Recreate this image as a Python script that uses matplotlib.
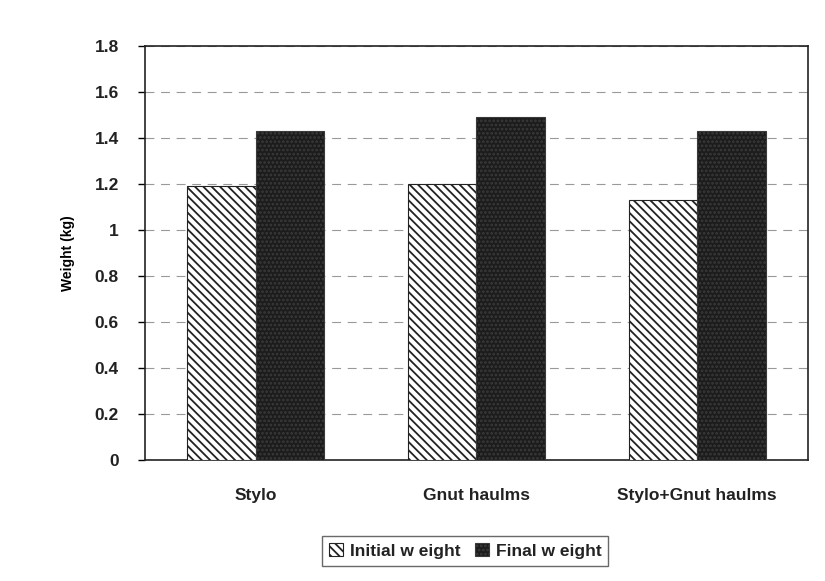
import matplotlib
matplotlib.use("Agg")
import matplotlib.pyplot as plt
import numpy as np

categories = ["Stylo", "Gnut haulms", "Stylo+Gnut haulms"]
initial_weight = [1.19, 1.20, 1.13]
final_weight = [1.43, 1.49, 1.43]
series_labels = ["Initial w eight", "Final w eight"]
y_ticks = [0, 0.2, 0.4, 0.6, 0.8, 1, 1.2, 1.4, 1.6, 1.8]
y_tick_labels = ["0", "0.2", "0.4", "0.6", "0.8", "1", "1.2", "1.4", "1.6", "1.8"]

plt.rcParams['font.family'] = ['Liberation Sans', 'DejaVu Sans']
plt.rcParams['hatch.linewidth'] = 1.3

fig = plt.figure(figsize=(8.25, 5.81), dpi=100)
ax = fig.add_axes([0.176, 0.208, 0.803, 0.713])

x = np.arange(len(categories))
w = 0.31
b1 = ax.bar(x - w/2, initial_weight, width=w, facecolor='white', edgecolor='#222222',
            hatch='\\\\\\\\', linewidth=0.8, label=series_labels[0], zorder=3)
b2 = ax.bar(x + w/2, final_weight, width=w, facecolor='#1c1c1c', edgecolor='#3a3a3a',
            hatch='....', linewidth=0.8, label=series_labels[1], zorder=3)

ax.set_xlim(-0.5, 2.5)
ax.set_ylim(0, 1.8)
ax.set_yticks(y_ticks)
ax.set_yticklabels(y_tick_labels, fontsize=12.5, fontweight='bold', color='#222222')
ax.set_xticks(x)
ax.set_xticklabels(categories, fontsize=12.5, fontweight='bold', color='#222222')
ax.tick_params(axis='x', length=0, pad=20)
ax.tick_params(axis='y', length=5, direction='out', pad=14, width=1)
ax.set_ylabel("Weight (kg)", fontsize=10, fontweight='bold', labelpad=14)

ax.yaxis.grid(True, color='#999999', linestyle=(0, (8, 6)), linewidth=0.8, zorder=0)
for s in ax.spines.values():
    s.set_color('#222222')
    s.set_linewidth(1.2)

leg = fig.legend(handles=[b1, b2], labels=series_labels, loc='center',
                 bbox_to_anchor=(0.564, 0.052), ncol=2, frameon=True, fancybox=False,
                 edgecolor='#444444', fontsize=12.5, handlelength=0.8, handleheight=0.8,
                 handletextpad=0.4, columnspacing=0.8, borderpad=0.4)
for t in leg.get_texts():
    t.set_fontweight('bold')
    t.set_color('#222222')

fig.savefig("out.png", dpi=100, facecolor='white')
